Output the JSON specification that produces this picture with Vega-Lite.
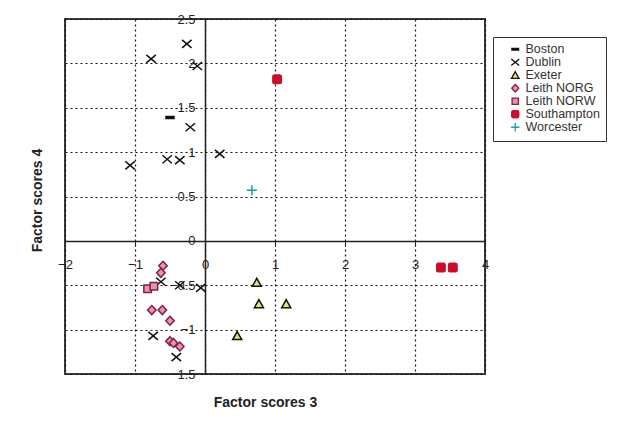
{
  "$schema": "https://vega.github.io/schema/vega-lite/v6.json",
  "width": 420,
  "height": 355,
  "autosize": {"type": "none"},
  "padding": {"left": 65, "top": 19, "right": 141, "bottom": 53},
  "background": "white",
  "config": {
    "font": "Liberation Sans",
    "view": {"stroke": "#3a3a3a", "strokeWidth": 2}
  },
  "data": {
    "values": [
      {"site": "Boston", "f3": -0.5, "f4": 1.39},
      {"site": "Dublin", "f3": -0.26, "f4": 2.22},
      {"site": "Dublin", "f3": -0.77, "f4": 2.05},
      {"site": "Dublin", "f3": -0.11, "f4": 1.97},
      {"site": "Dublin", "f3": -0.21, "f4": 1.28},
      {"site": "Dublin", "f3": -0.54, "f4": 0.92},
      {"site": "Dublin", "f3": -0.36, "f4": 0.91},
      {"site": "Dublin", "f3": -1.07, "f4": 0.85},
      {"site": "Dublin", "f3": 0.21, "f4": 0.98},
      {"site": "Dublin", "f3": -0.06, "f4": -0.53},
      {"site": "Dublin", "f3": -0.63, "f4": -0.46},
      {"site": "Dublin", "f3": -0.36, "f4": -0.5},
      {"site": "Dublin", "f3": -0.74, "f4": -1.07},
      {"site": "Dublin", "f3": -0.41, "f4": -1.31},
      {"site": "Exeter", "f3": 0.74, "f4": -0.47},
      {"site": "Exeter", "f3": 0.77, "f4": -0.71},
      {"site": "Exeter", "f3": 1.16, "f4": -0.71},
      {"site": "Exeter", "f3": 0.46, "f4": -1.07},
      {"site": "Leith NORG", "f3": -0.6, "f4": -0.28},
      {"site": "Leith NORG", "f3": -0.63, "f4": -0.36},
      {"site": "Leith NORG", "f3": -0.76, "f4": -0.78},
      {"site": "Leith NORG", "f3": -0.61, "f4": -0.78},
      {"site": "Leith NORG", "f3": -0.5, "f4": -0.9},
      {"site": "Leith NORG", "f3": -0.5, "f4": -1.13},
      {"site": "Leith NORG", "f3": -0.45, "f4": -1.15},
      {"site": "Leith NORG", "f3": -0.36, "f4": -1.19},
      {"site": "Leith NORW", "f3": -0.82, "f4": -0.54},
      {"site": "Leith NORW", "f3": -0.73, "f4": -0.51},
      {"site": "Southampton", "f3": 1.03, "f4": 1.82},
      {"site": "Southampton", "f3": 3.37, "f4": -0.3},
      {"site": "Southampton", "f3": 3.54, "f4": -0.3},
      {"site": "Worcester", "f3": 0.67, "f4": 0.57}
    ]
  },
  "mark": {"type": "point", "filled": true, "strokeWidth": 1.5, "opacity": 1, "size": 100},
  "encoding": {
    "x": {
      "field": "f3",
      "type": "quantitative",
      "scale": {"domain": [-2, 4], "nice": false, "zero": false},
      "axis": {
        "offset": -133,
        "orient": "bottom",
        "values": [-2, -1, 0, 1, 2, 3, 4],
        "format": "~g",
        "labelFlush": false,
        "labelOverlap": false,
        "labelFontSize": 13,
        "labelColor": "#222",
        "labelPadding": 12,
        "tickSize": 5,
        "tickColor": "#222",
        "domainColor": "#222",
        "domainWidth": 1.5,
        "grid": true,
        "gridDash": [2, 3],
        "gridColor": "#111",
        "gridWidth": 1.2,
        "gridOpacity": 1,
        "title": "Factor scores 3",
        "titleFontSize": 14,
        "titleFontWeight": "bold",
        "titleColor": "#222",
        "titleX": 200,
        "titleY": 161,
        "titleBaseline": "middle",
        "titleAlign": "center"
      }
    },
    "y": {
      "field": "f4",
      "type": "quantitative",
      "scale": {"domain": [-1.5, 2.5], "nice": false, "zero": false},
      "axis": {
        "offset": -140,
        "orient": "left",
        "values": [-1.5, -1, -0.5, 0, 0.5, 1, 1.5, 2, 2.5],
        "format": "~g",
        "labelFlush": false,
        "labelOverlap": false,
        "labelFontSize": 13,
        "labelColor": "#222",
        "labelPadding": 10,
        "ticks": false,
        "domainColor": "#222",
        "domainWidth": 1.5,
        "grid": true,
        "gridDash": [2, 3],
        "gridColor": "#111",
        "gridWidth": 1.2,
        "gridOpacity": 1,
        "title": "Factor scores 4",
        "titleFontSize": 14,
        "titleFontWeight": "bold",
        "titleColor": "#222",
        "titleAngle": -90,
        "titleX": -168,
        "titleY": 181,
        "titleBaseline": "middle",
        "titleAlign": "center"
      }
    },
    "shape": {
      "field": "site",
      "type": "nominal",
      "scale": {
        "domain": ["Boston", "Dublin", "Exeter", "Leith NORG", "Leith NORW", "Southampton", "Worcester"],
        "range": [
          "M-0.8,-0.2L0.8,-0.2L0.8,0.2L-0.8,0.2Z",
          "M-0.95,-0.8L0.95,0.8M-0.95,0.8L0.95,-0.8",
          "M0,-0.85L0.9,0.75L-0.9,0.75Z",
          "M0,-0.9L0.85,0L0,0.9L-0.85,0Z",
          "M-0.75,-0.75H0.75V0.75H-0.75Z",
          "M-0.5,-0.85H0.5Q0.85,-0.85 0.85,-0.5V0.5Q0.85,0.85 0.5,0.85H-0.5Q-0.85,0.85 -0.85,0.5V-0.5Q-0.85,-0.85 -0.5,-0.85Z",
          "M-1,0L1,0M0,-1L0,1"
        ]
      },
      "legend": {
        "orient": "none",
        "legendX": 428,
        "legendY": 18,
        "title": null,
        "strokeColor": "#333",
        "padding": 6,
        "symbolOffset": 10,
        "labelFontSize": 12.5,
        "labelColor": "#333",
        "labelOffset": 4,
        "rowPadding": -2,
        "symbolSize": 70,
        "symbolStrokeWidth": 1.3,
        "encode": {"legend": {"update": {"strokeWidth": {"value": 2}}}}
      }
    },
    "fill": {
      "field": "site",
      "type": "nominal",
      "scale": {
        "domain": ["Boston", "Dublin", "Exeter", "Leith NORG", "Leith NORW", "Southampton", "Worcester"],
        "range": ["#111", "#111", "#e8e272", "#ea90b0", "#ea90b0", "#c8102e", "#1f9e9e"]
      },
      "legend": null
    },
    "stroke": {
      "field": "site",
      "type": "nominal",
      "scale": {
        "domain": ["Boston", "Dublin", "Exeter", "Leith NORG", "Leith NORW", "Southampton", "Worcester"],
        "range": ["#111", "#111", "#111", "#7a2340", "#7a2340", "#c8102e", "#1f9e9e"]
      },
      "legend": null
    }
  }
}
